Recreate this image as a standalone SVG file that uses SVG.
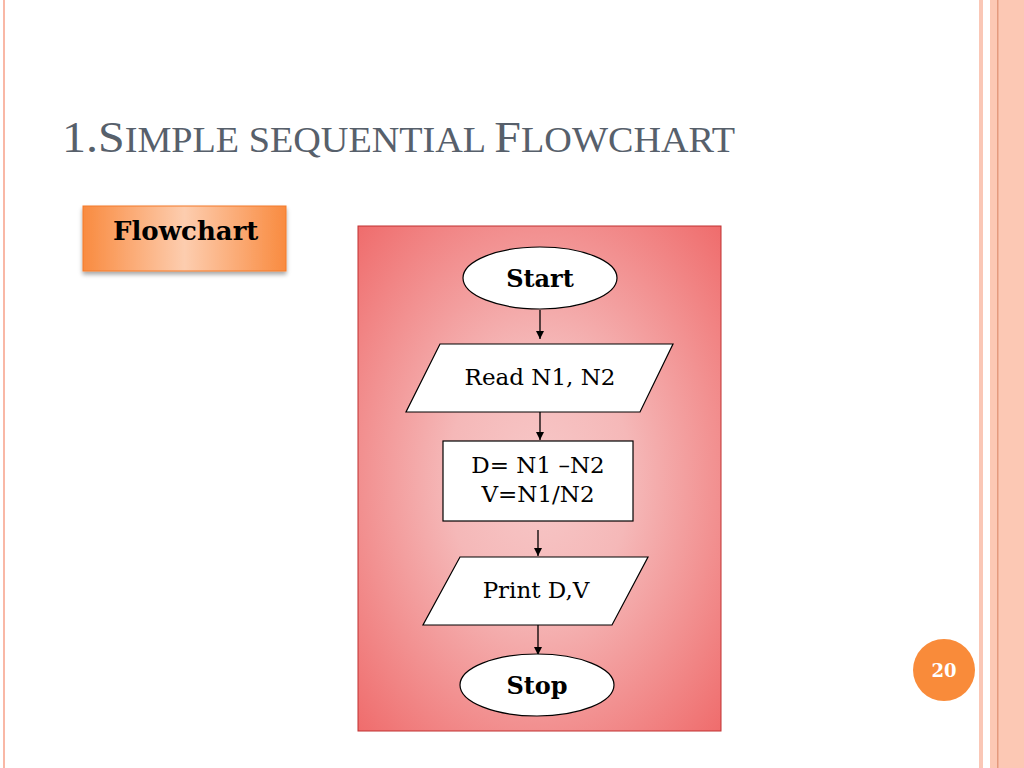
<svg xmlns="http://www.w3.org/2000/svg" width="1024" height="768" viewBox="0 0 1024 768">
<defs>
<style>
.ttl{font-family:"Liberation Serif","DejaVu Serif",serif;font-size:44px;fill:#57606B}
.sc{font-size:35px}
.lbl{font-family:"DejaVu Serif","Liberation Serif",serif;font-size:23px;fill:#000;text-anchor:middle}
.b{font-weight:bold;font-size:24px}
.shape{fill:#fff;stroke:#000;stroke-width:1.2}
.conn{stroke:#000;stroke-width:1.3;fill:none;marker-end:url(#ah)}
</style>
<marker id="ah" viewBox="0 0 10 10" refX="10" refY="5" markerWidth="8" markerHeight="8" markerUnits="userSpaceOnUse" orient="auto">
<path d="M0,0 L10,5 L0,10 z" fill="#000"/>
</marker>
<radialGradient id="panel" cx="50%" cy="50%" r="72%">
<stop offset="0" stop-color="#F7C8C8"/>
<stop offset="0.35" stop-color="#F5B8B8"/>
<stop offset="1" stop-color="#EF6A6A"/>
</radialGradient>
<linearGradient id="btn" x1="0" y1="0" x2="1" y2="0">
<stop offset="0" stop-color="#F98B40"/>
<stop offset="0.5" stop-color="#FDCDAF"/>
<stop offset="1" stop-color="#F98B40"/>
</linearGradient>
<filter id="sh" x="-10%" y="-10%" width="130%" height="140%">
<feDropShadow dx="0" dy="3" stdDeviation="2" flood-color="#000" flood-opacity="0.35"/>
</filter>
</defs>
<rect width="1024" height="768" fill="#fff"/>
<!-- page frame -->
<rect x="3" y="0" width="2" height="768" fill="#F9B8A6"/>
<rect x="979" y="0" width="4" height="768" fill="#FAC7B6"/>
<rect x="990" y="0" width="34" height="768" fill="#FCC8B4"/>
<rect x="997" y="0" width="1.5" height="768" fill="#E49A7E"/>
<!-- title -->
<text class="ttl" x="62" y="152" textLength="673" lengthAdjust="spacingAndGlyphs">1.S<tspan class="sc">IMPLE SEQUENTIAL </tspan>F<tspan class="sc">LOWCHART</tspan></text>
<!-- flowchart button -->
<g id="flowchart-label">
<rect x="83" y="206" width="203" height="65" fill="url(#btn)" stroke="#F47A2A" stroke-width="1" filter="url(#sh)"/>
<text x="113" y="240" style="font-family:'DejaVu Serif','Liberation Serif',serif;font-size:26px;font-weight:bold;fill:#000">Flowchart</text>
</g>
<!-- panel -->
<rect x="358" y="226" width="363" height="505" fill="url(#panel)" stroke="#C03030" stroke-width="1"/>
<g id="connectors">
<line class="conn" x1="540" y1="310" x2="540" y2="339"/>
<line class="conn" x1="540" y1="412" x2="540" y2="440"/>
<line class="conn" x1="538" y1="530" x2="538" y2="556"/>
<line class="conn" x1="538" y1="625" x2="538" y2="655"/>
</g>
<g id="start">
<ellipse class="shape" cx="540" cy="278" rx="77" ry="31"/>
<text class="lbl b" x="540" y="287">Start</text>
</g>
<g id="read">
<polygon class="shape" points="440,344 673,344 640,412 406,412"/>
<text class="lbl" x="540" y="385">Read N1, N2</text>
</g>
<g id="compute">
<rect class="shape" x="443" y="441" width="190" height="80"/>
<text class="lbl" x="538" y="473">D= N1 –N2</text>
<text class="lbl" x="538" y="502">V=N1/N2</text>
</g>
<g id="print">
<polygon class="shape" points="460,557 648,557 612,625 423,625"/>
<text class="lbl" x="536" y="598">Print D,V</text>
</g>
<g id="stop">
<ellipse class="shape" cx="537" cy="685" rx="77" ry="31"/>
<text class="lbl b" x="537" y="694">Stop</text>
</g>
<g id="page-number">
<circle cx="944" cy="670" r="31" fill="#F98B3A"/>
<text x="944" y="677" text-anchor="middle" style="font-family:'DejaVu Serif','Liberation Serif',serif;font-size:18px;font-weight:bold;fill:#fff">20</text>
</g>
</svg>
